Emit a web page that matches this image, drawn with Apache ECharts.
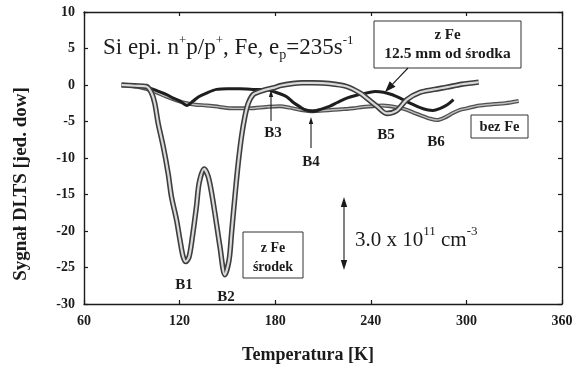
<!DOCTYPE html>
<html><head><meta charset="utf-8">
<script src="https://cdn.jsdelivr.net/npm/echarts@6/dist/echarts.min.js"></script>
<style>html,body{margin:0;padding:0;background:#fff}#c{width:584px;height:369px}</style>
</head><body><div id="c"></div>
<script>
// ---- data ----
var xTicks = [60, 120, 180, 240, 300, 360];
var yTicks = [-30, -25, -20, -15, -10, -5, 0, 5, 10];

// z Fe, środek (open squares, big W)
var srodekT = [83.5, 92, 99.2, 102.4, 104.4, 106.5, 109.7, 112.8, 114.9, 118.1, 120.2, 122.2, 123.9, 126, 128.1, 130.6, 132.3, 135.4, 137.9, 140.1, 142.8, 145.3, 148.4, 151.1, 152.6, 154.7, 156.8, 158.9, 161, 163.1, 166.2, 170.4, 174.6, 178.8, 183, 191, 197, 203.9, 214, 224.9, 233.3, 238, 243.8, 250, 256.3, 262.6, 271, 280, 287.8, 297, 307.7];
var srodekV = [0, -0.1, -0.2, -1.1, -2.5, -5.2, -8.4, -12.1, -15.3, -18.5, -21.2, -23.5, -24.2, -23.5, -20.7, -16.6, -13.4, -11.5, -12.5, -14.8, -18.5, -22.1, -26.0, -23.9, -20.3, -15.3, -10.7, -7.0, -4.3, -2.5, -1.3, -0.9, -0.6, -0.4, -0.1, 0.2, 0.3, 0.3, 0.2, -0.2, -1.1, -1.9, -2.9, -3.9, -3.5, -2.0, -1.0, -0.6, -0.3, 0.1, 0.4];

// z Fe, 12.5 mm od środka (solid dark)
var fe125T = [83.5, 90, 99.2, 106, 111.8, 116, 120.2, 124.4, 128.5, 132, 136.9, 143.2, 150, 157.9, 166, 174.6, 179, 183, 187.2, 191.4, 195.6, 199, 203.9, 209, 214.4, 219, 224.9, 231, 237.5, 243, 247.9, 253, 258.4, 262, 266.8, 271, 275.2, 279, 283.6, 288, 291.9];
var fe125V = [0, -0.1, -0.3, -0.8, -1.3, -1.8, -2.2, -2.8, -2.2, -1.6, -1.1, -0.6, -0.5, -0.5, -0.6, -0.6, -0.9, -1.2, -1.6, -2.4, -3.0, -3.4, -3.6, -3.3, -2.9, -2.4, -1.8, -1.4, -1.1, -0.9, -1.0, -1.3, -1.8, -2.2, -2.7, -3.1, -3.4, -3.5, -3.2, -2.7, -2.0];

// bez Fe (beaded, lower)
var bezT = [86, 95, 103, 111.8, 118, 124.4, 130, 136.9, 145, 153.7, 164, 174.6, 183, 189, 195.6, 203.9, 210, 216.5, 223, 229.1, 235, 241.7, 247, 252.2, 257, 262.6, 268, 273.1, 277, 281.5, 286, 291.9, 296, 300.3, 306, 312.9, 318, 324.4, 332.8];
var bezV = [0, -0.3, -0.8, -1.6, -2.1, -2.5, -2.7, -2.8, -3.0, -3.2, -3.2, -3.0, -2.9, -3.1, -3.4, -3.6, -3.5, -3.4, -3.3, -3.2, -3.0, -2.9, -2.8, -2.9, -3.1, -3.4, -3.9, -4.3, -4.6, -4.8, -4.5, -3.8, -3.4, -3.2, -2.9, -2.7, -2.6, -2.5, -2.2];

function pairs(a, b) { return a.map(function (t, i) { return [t, b[i]]; }); }

var FONT = '"Liberation Serif", "DejaVu Serif", serif';
var INK = '#1b1b1b';

var chart = echarts.init(document.getElementById('c'), null, {renderer: 'canvas'});

function axisCommon(show) {
  return {
    axisLine: {show: true, onZero: false, lineStyle: {color: INK, width: 1.4}},
    axisTick: {show: true, inside: true, length: 4, lineStyle: {color: INK, width: 1.2}},
    splitLine: {show: false},
    axisLabel: {show: show, color: INK, fontFamily: FONT, fontSize: 14, fontWeight: 'bold'}
  };
}

var xa = Object.assign(axisCommon(true), {type: 'value', min: xTicks[0], max: xTicks[xTicks.length - 1], interval: 60, position: 'bottom'});
xa.axisLabel.margin = 10;
var xaTop = Object.assign(axisCommon(false), {type: 'value', min: xTicks[0], max: xTicks[xTicks.length - 1], interval: 60, position: 'top'});
var ya = Object.assign(axisCommon(true), {type: 'value', min: yTicks[0], max: yTicks[yTicks.length - 1], interval: 5, position: 'left'});
ya.axisLabel.margin = 9;
var yaRight = Object.assign(axisCommon(false), {type: 'value', min: yTicks[0], max: yTicks[yTicks.length - 1], interval: 5, position: 'right'});

function tube(name, data, outer, outerW, inner, innerW, z) {
  return [
    {name: name, type: 'line', data: data, xAxisIndex: 0, yAxisIndex: 0, showSymbol: false, smooth: 0.3,
     lineStyle: {color: outer, width: outerW}, z: z, animation: false},
    {name: name + '_in', type: 'line', data: data, xAxisIndex: 0, yAxisIndex: 0, showSymbol: false, smooth: 0.3,
     lineStyle: {color: inner, width: innerW}, z: z + 1, animation: false}
  ];
}

var series = []
  .concat(tube('bez Fe', pairs(bezT, bezV), '#505050', 4, '#bdbdbd', 1.4, 2))
  .concat([{name: 'z Fe 12.5 mm', type: 'line', data: pairs(fe125T, fe125V), showSymbol: false, smooth: 0.3,
            lineStyle: {color: '#1e1e1e', width: 3}, z: 4, animation: false}])
  .concat(tube('z Fe srodek', pairs(srodekT, srodekV), '#3e3e3e', 5.4, '#d9d9d9', 2.2, 5));

function txt(x, y, text, size, opts) {
  opts = opts || {};
  return {type: 'text', x: x, y: y, z: 20,
    style: Object.assign({text: text, fill: INK, font: (opts.weight || 'normal') + ' ' + size + 'px ' + FONT,
      align: opts.align || 'center', verticalAlign: opts.va || 'middle'}, opts.style || {})};
}
function rect(x1, y1, x2, y2) {
  return {type: 'rect', z: 15, shape: {x: x1, y: y1, width: x2 - x1, height: y2 - y1},
    style: {fill: '#fff', stroke: '#333', lineWidth: 1}};
}
function arrow(x1, y1, x2, y2, head, w) {
  var ang = Math.atan2(y2 - y1, x2 - x1);
  var L = head || 9, W = w || 3.2;
  var bx = x2 - L * Math.cos(ang), by = y2 - L * Math.sin(ang);
  var px = -Math.sin(ang) * W, py = Math.cos(ang) * W;
  return [
    {type: 'line', z: 18, shape: {x1: x1, y1: y1, x2: bx, y2: by}, style: {stroke: INK, lineWidth: 1.1}},
    {type: 'polygon', z: 18, shape: {points: [[x2, y2], [bx + px, by + py], [bx - px, by - py]]}, style: {fill: INK}}
  ];
}

var graphics = [];
// title
graphics.push({type: 'text', x: 103, y: 48, z: 20, style: {
  text: '{n|Si epi. n}{s|+}{n|p/p}{s|+}{n|, Fe, e}{b|p}{n|=235s}{s|-1}',
  verticalAlign: 'middle', align: 'left',
  rich: {
    n: {fontFamily: FONT, fontSize: 23, fill: INK, lineHeight: 28, verticalAlign: 'middle'},
    s: {fontFamily: FONT, fontSize: 13, fill: INK, lineHeight: 28, verticalAlign: 'top'},
    b: {fontFamily: FONT, fontSize: 14, fill: INK, lineHeight: 28, verticalAlign: 'bottom'}
  }}});
// boxes
graphics.push(rect(374, 21, 521, 68));
graphics.push(txt(447.5, 35, 'z Fe', 15, {weight: 'bold'}));
graphics.push(txt(447.5, 54, '12.5 mm od środka', 15.5, {weight: 'bold'}));
graphics = graphics.concat(arrow(408, 68, 385, 92, 11, 4));

graphics.push(rect(471, 115, 528, 138));
graphics.push(txt(499.5, 127, 'bez Fe', 14.5, {weight: 'bold'}));

graphics.push(rect(243, 232, 303, 278));
graphics.push(txt(273, 248, 'z Fe', 14, {weight: 'bold'}));
graphics.push(txt(273, 267, 'środek', 14, {weight: 'bold'}));

// scale bar
graphics = graphics.concat(arrow(344, 233, 344, 197, 10, 3.2));
graphics = graphics.concat(arrow(344, 233, 344, 270, 10, 3.2));
graphics.push({type: 'text', x: 355, y: 240, z: 20, style: {
  text: '{n|3.0 x 10}{s|11}{n| cm}{s|-3}', align: 'left', verticalAlign: 'middle',
  rich: {
    n: {fontFamily: FONT, fontSize: 21, fill: INK, lineHeight: 30, verticalAlign: 'middle'},
    s: {fontFamily: FONT, fontSize: 13, fill: INK, lineHeight: 30, verticalAlign: 'top'}
  }}});

// peak labels
graphics.push(txt(184, 285, 'B1', 15, {weight: 'bold'}));
graphics.push(txt(226, 297, 'B2', 15, {weight: 'bold'}));
graphics.push(txt(273, 133, 'B3', 15, {weight: 'bold'}));
graphics.push(txt(311, 162, 'B4', 15, {weight: 'bold'}));
graphics.push(txt(386, 135, 'B5', 15, {weight: 'bold'}));
graphics.push(txt(436, 142, 'B6', 15, {weight: 'bold'}));
graphics = graphics.concat(arrow(271, 121, 271, 90, 7, 2.2));
graphics = graphics.concat(arrow(311, 148, 311, 117, 7, 2.2));

// axis titles
graphics.push(txt(308, 355, 'Temperatura [K]', 18, {weight: 'bold'}));
graphics.push({type: 'text', x: 21, y: 184, rotation: Math.PI / 2, z: 20,
  style: {text: 'Sygnał DLTS [jed. dow]', fill: INK, font: 'bold 19px ' + FONT, align: 'center', verticalAlign: 'middle'}});

chart.setOption({
  animation: false,
  backgroundColor: '#fff',
  grid: {left: 84, right: 22, top: 12, bottom: 65, containLabel: false},
  xAxis: [xa, xaTop],
  yAxis: [ya, yaRight],
  series: series,
  graphic: graphics
});
</script></body></html>
